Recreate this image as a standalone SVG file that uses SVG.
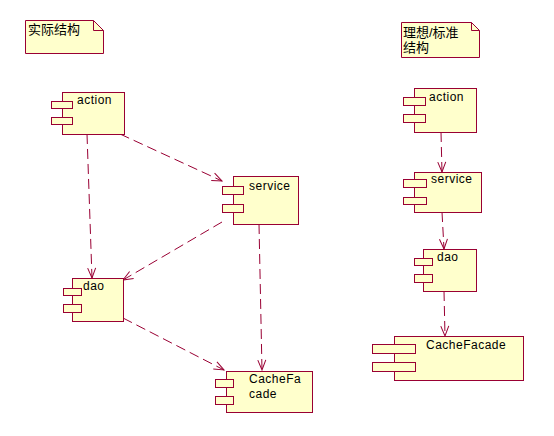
<svg xmlns="http://www.w3.org/2000/svg" width="554" height="436" viewBox="0 0 554 436">
<defs>
<style>
.b{fill:#ffffcc;stroke:#990033;stroke-width:1}
.f{fill:none;stroke:#990033;stroke-width:1}
.t{font-family:"Liberation Sans",Arial,sans-serif;font-size:12px;letter-spacing:0.5px;fill:#000}
.c{font-family:"Liberation Sans","Noto Sans CJK SC",sans-serif;font-size:13px;fill:#000}
.e{fill:none;stroke:#990033;stroke-width:1;stroke-dasharray:10 5}
</style>
<marker id="a" markerWidth="12" markerHeight="10" refX="11" refY="5" orient="auto" markerUnits="userSpaceOnUse">
<path d="M1,1 L11,5 L1,9" fill="none" stroke="#990033" stroke-width="1"/>
</marker>
</defs>
<rect width="554" height="436" fill="#fff"/>

<g id="note1">
<path class="b" d="M25.5,20.5 H93.5 L103.5,30.5 V53.5 H25.5 Z"/>
<path class="f" d="M93.5,20.5 V30.5 H103.5"/>
<text class="c" x="28" y="34">实际结构</text>
</g>

<g id="note2">
<path class="b" d="M401.5,22.5 H471.5 L479.5,30.5 V57.5 H401.5 Z"/>
<path class="f" d="M471.5,22.5 V30.5 H479.5"/>
<text class="c" x="403" y="37">理想/标准</text>
<text class="c" x="403" y="52">结构</text>
</g>

<g id="connectors">
<path class="e" d="M120,134 L222,181" marker-end="url(#a)"/>
<path class="e" d="M87,134 L92,278" marker-end="url(#a)"/>
<path class="e" d="M222,222 L123,280" marker-end="url(#a)"/>
<path class="e" d="M259,224 L262,370" marker-end="url(#a)"/>
<path class="e" d="M123,318 L224,370" marker-end="url(#a)"/>
<path class="e" d="M441,132 L442,172" marker-end="url(#a)"/>
<path class="e" d="M442,212 L444,249" marker-end="url(#a)"/>
<path class="e" d="M444,291 L445,336" marker-end="url(#a)"/>
</g>

<g id="action1">
<rect class="b" x="62.5" y="92.5" width="62" height="42"/>
<rect class="b" x="51.5" y="101.5" width="21" height="7"/>
<rect class="b" x="51.5" y="117.5" width="21" height="7"/>
<text class="t" x="77" y="104">action</text>
</g>

<g id="service1">
<rect class="b" x="233.5" y="176.5" width="65" height="48"/>
<rect class="b" x="222.5" y="186.5" width="21" height="8"/>
<rect class="b" x="222.5" y="204.5" width="21" height="8"/>
<text class="t" x="249" y="190">service</text>
</g>

<g id="dao1">
<rect class="b" x="72.5" y="278.5" width="51" height="43"/>
<rect class="b" x="63.5" y="288.5" width="18" height="7"/>
<rect class="b" x="63.5" y="304.5" width="18" height="8"/>
<text class="t" x="83" y="290">dao</text>
</g>

<g id="cache1">
<rect class="b" x="226.5" y="371.5" width="86" height="41"/>
<rect class="b" x="215.5" y="379.5" width="18" height="8"/>
<rect class="b" x="215.5" y="396.5" width="18" height="8"/>
<text class="t" x="249" y="383">CacheFa</text>
<text class="t" x="249" y="398">cade</text>
</g>

<g id="action2">
<rect class="b" x="414.5" y="88.5" width="62" height="44"/>
<rect class="b" x="403.5" y="97.5" width="22" height="8"/>
<rect class="b" x="403.5" y="114.5" width="22" height="8"/>
<text class="t" x="429" y="101">action</text>
</g>

<g id="service2">
<rect class="b" x="414.5" y="172.5" width="67" height="40"/>
<rect class="b" x="403.5" y="179.5" width="23" height="8"/>
<rect class="b" x="403.5" y="197.5" width="23" height="7"/>
<text class="t" x="431" y="183">service</text>
</g>

<g id="dao2">
<rect class="b" x="423.5" y="249.5" width="53" height="42"/>
<rect class="b" x="414.5" y="258.5" width="18" height="7"/>
<rect class="b" x="414.5" y="274.5" width="18" height="8"/>
<text class="t" x="437" y="261">dao</text>
</g>

<g id="cache2">
<rect class="b" x="394.5" y="336.5" width="129" height="44"/>
<rect class="b" x="372.5" y="344.5" width="43" height="9"/>
<rect class="b" x="372.5" y="362.5" width="43" height="9"/>
<text class="t" x="426" y="349">CacheFacade</text>
</g>
</svg>
